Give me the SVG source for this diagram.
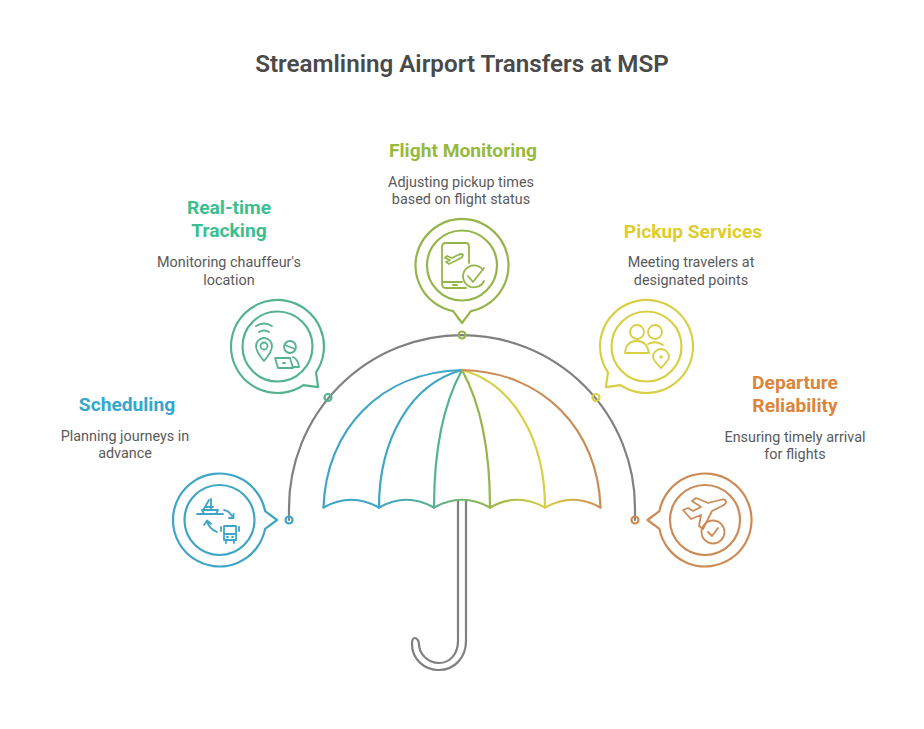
<svg xmlns="http://www.w3.org/2000/svg" width="924" height="729" viewBox="0 0 924 729">
<style>
text{font-family:Roboto,"Liberation Sans",sans-serif;text-anchor:middle}
.title{font-size:24.200px;font-weight:600;fill:#4a4a4a}
.h{font-size:19.200px;font-weight:700}
.d{font-size:14.400px;fill:#5a5a5a}
.l{fill:none;stroke-width:2.200;stroke-linecap:round;stroke-linejoin:round}
.i{fill:none;stroke-width:1.800;stroke-linecap:round;stroke-linejoin:round}
.b{stroke:#3fa5c6}.g{stroke:#54b38f}.o{stroke:#95b54a}.y{stroke:#d9cf44}.r{stroke:#cc8b55}
.gr{stroke:#808080}
</style>
<defs>
<path id="bubble" d="M45.600-8.900A46.500 46.500 0 1 0 45.600 8.900L57.500 0Z"/>
<linearGradient id="s2" gradientUnits="userSpaceOnUse" x1="379" y1="0" x2="434" y2="0"><stop offset="0" stop-color="#3fa5c6"/><stop offset="1" stop-color="#54b38f"/></linearGradient>
<linearGradient id="s3" gradientUnits="userSpaceOnUse" x1="434" y1="0" x2="490" y2="0"><stop offset="0" stop-color="#54b38f"/><stop offset="1" stop-color="#95b54a"/></linearGradient>
<linearGradient id="s4" gradientUnits="userSpaceOnUse" x1="490" y1="0" x2="545" y2="0"><stop offset="0" stop-color="#95b54a"/><stop offset="1" stop-color="#d9cf44"/></linearGradient>
<linearGradient id="s5" gradientUnits="userSpaceOnUse" x1="545" y1="0" x2="601" y2="0"><stop offset="0" stop-color="#d9cf44"/><stop offset="1" stop-color="#cc8b55"/></linearGradient>
</defs>
<rect width="924" height="729" fill="#fff"/>
<text class="title" x="462" y="72">Streamlining Airport Transfers at MSP</text>

<g id="connectors">
<path class="l gr" d="M289 520V508A173 173 0 0 1 635 508V520"/>
<circle class="l b" cx="289" cy="520" r="3.500"/>
<circle class="l g" cx="328" cy="397.500" r="3.500"/>
<circle class="l o" cx="462" cy="335" r="3.500"/>
<circle class="l y" cx="596" cy="397.500" r="3.500"/>
<circle class="l r" cx="635" cy="520" r="3.500"/>
</g>

<g id="umbrella">
<path class="l gr" d="M458 501V641C458 654 450 663 439 663C428 663 419 654 419 644C419 640 416 638 415 638C413 638 412 640 412 644C412 659 424 670 439 670C454 670 466 658 466 641V501"/>
<path class="l b" d="M462 370C380 372 326 430 323.500 507.500"/>
<path class="l b" d="M462 370C410 384 379 440 379 507.500"/>
<path class="l g" d="M462 370C440 410 434 460 434 507.500"/>
<path class="l o" d="M462 370C484 410 490 460 490 507.500"/>
<path class="l y" d="M462 370C514 384 545 440 545 507.500"/>
<path class="l r" d="M462 370C544 372 598 430 600.500 507.500"/>
<path class="l b" d="M323.500 507.500Q351 492 379 507.500"/>
<path class="l" stroke="url(#s2)" d="M379 507.500Q406.500 492 434 507.500"/>
<path class="l" stroke="url(#s3)" d="M434 507.500Q462 492 490 507.500"/>
<path class="l" stroke="url(#s4)" d="M490 507.500Q517.500 492 545 507.500"/>
<path class="l" stroke="url(#s5)" d="M545 507.500Q573 492 600.500 507.500"/>
</g>

<g id="node-scheduling">
<text class="h" x="127" y="411" fill="#33a7cc">Scheduling</text>
<text class="d" x="125" y="441">Planning journeys in</text>
<text class="d" x="125" y="458">advance</text>
<use href="#bubble" class="l b" transform="translate(219.500 520)"/>
<circle class="l b" cx="219.500" cy="520" r="35"/>
<g class="i b">
<path d="M197 514H223M202 510H218L216 514M202 510L204 514M209 500L205 507H213M211 499V510M205 507L203 510"/>
<path d="M224 510Q230 511 233 518M229 518H233.500V514M207 521Q209 529 217 532M204 525L207 520.500L211 524"/>
<path d="M224 526H236V540H224ZM224 534H236M226 540V543M234 540V543M221 527V531M239 527V531M227 537H228M232 537H233"/>
</g>
</g>

<g id="node-tracking">
<text class="h" x="229" y="214" fill="#3cbf8e">Real-time</text>
<text class="h" x="229" y="237" fill="#3cbf8e">Tracking</text>
<text class="d" x="229" y="267">Monitoring chauffeur's</text>
<text class="d" x="229" y="285">location</text>
<use href="#bubble" class="l g" transform="translate(277.500 346.500) rotate(45)"/>
<circle class="l g" cx="277.500" cy="346.500" r="35"/>
<g class="i g">
<path d="M264 361C258 354 256 350 256 346A8 8 0 0 1 272 346C272 350 270 354 264 361Z"/>
<circle cx="264" cy="346" r="3.500"/>
<path d="M256 326Q264 321 272 326M259 332Q264 329 269 332"/>
<circle cx="290" cy="347" r="6"/>
<path d="M285 345L295 349M275 358H290L293 368H278ZM283 363H285M293 357Q298 359 299 367H293"/>
</g>
</g>

<g id="node-flight">
<text class="h" x="463" y="157" fill="#97b93c">Flight Monitoring</text>
<text class="d" x="461" y="187">Adjusting pickup times</text>
<text class="d" x="461" y="204">based on flight status</text>
<use href="#bubble" class="l o" transform="translate(462 265.500) rotate(90)"/>
<circle class="l o" cx="462" cy="265.500" r="35"/>
<g class="i o">
<path d="M466 288H446Q442 288 442 284V247Q442 243 446 243H466Q469 243 469 247V263M442 282H462M453 285H457"/>
<path d="M447 256L452 258L458 255Q462 253 463 255Q463 257 459 259L449 264L446 262L450 260L445 258Z"/>
<path d="M483 270A11 11 0 1 0 484 281M468 276L473 282L484 268"/>
</g>
</g>

<g id="node-pickup">
<text class="h" x="693" y="238" fill="#dfcd2a">Pickup Services</text>
<text class="d" x="691" y="267">Meeting travelers at</text>
<text class="d" x="691" y="285">designated points</text>
<use href="#bubble" class="l y" transform="translate(646.500 346.500) rotate(135)"/>
<circle class="l y" cx="646.500" cy="346.500" r="35"/>
<g class="i y">
<circle cx="637" cy="332" r="7"/>
<circle cx="655" cy="332" r="7"/>
<path d="M625 353Q626 341 637 341Q647 341 649 353Z"/>
<path d="M648 344Q656 340 663 345"/>
<path d="M661 368C656 363 653 360 653 357A8 8 0 0 1 669 357C669 360 666 363 661 368Z"/>
<circle cx="661" cy="357" r="0.800"/>
</g>
</g>

<g id="node-departure">
<text class="h" x="795" y="389" fill="#db853a">Departure</text>
<text class="h" x="795" y="412" fill="#db853a">Reliability</text>
<text class="d" x="795" y="442">Ensuring timely arrival</text>
<text class="d" x="795" y="459">for flights</text>
<use href="#bubble" class="l r" transform="translate(705 520) rotate(180)"/>
<circle class="l r" cx="705" cy="520" r="35"/>
<g class="i r">
<path d="M696 498L708 503L722 499.500Q726 499 726 502Q726 504 722 506L712 511L703 529L699 526L701 515L691 519L683 510L688 508L693 511L701 507L692 501Z"/>
<circle cx="713" cy="532" r="11.500"/>
<path d="M708 532L712 536L718 528"/>
</g>
</g>
</svg>
